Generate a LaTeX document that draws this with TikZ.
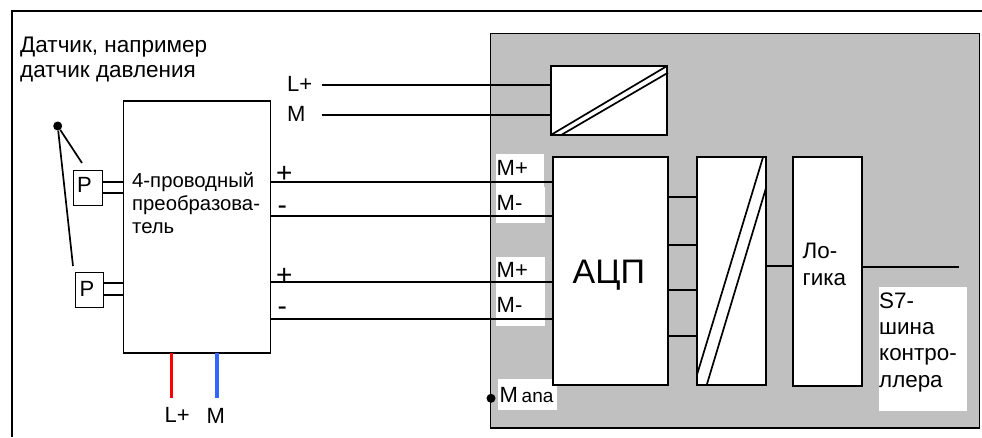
\documentclass[tikz,border=0pt]{standalone}
\usepackage{fontspec}
\setmainfont{Liberation Sans}
\usepackage{xcolor}
\definecolor{modulegray}{HTML}{C0C0C0}
\definecolor{wirered}{HTML}{FF0000}
\definecolor{wireblue}{HTML}{3366FF}
\tikzset{
    Block/.style = {draw,line width=1.8pt,fill=white,anchor=north west,inner sep=0pt,outer sep=0pt},
    Sensor/.style = {draw,line width=1pt,fill=white,anchor=north west,inner sep=0pt,outer sep=0pt},
    Txt/.style = {inner sep=0pt,anchor=base west,font=\fontsize{22}{26}\selectfont,align=left},
    Sign/.style = {inner sep=0pt,anchor=base west,font=\fontsize{28}{28}\selectfont},
    Patch/.style = {fill=white,draw=none,anchor=north west,inner sep=0pt,outer sep=0pt},
    Wire/.style = {line width=1.7pt},
    Dot/.style = {fill,circle,inner sep=0pt,minimum size=9pt}
}
\begin{document}
\begin{tikzpicture}[x=1pt,y=-1pt]
        \useasboundingbox (0,0) rectangle (982,437);
        % frame and module
        \coordinate (frameA) at (12,437);
        \coordinate (frameB) at (12,11);
        \coordinate (frameC) at (982,11);
        \draw[line width=1.8pt] (frameA) -- (frameB) -- (frameC);
        \node[Block,fill=modulegray,minimum width=489pt,minimum height=394.5pt] (module) at (490.5,33.5) {};
        % white patches below the labels
        \node[Patch,minimum width=48pt,minimum height=33pt] (patchA) at (496,154) {};
        \node[Patch,minimum width=49pt,minimum height=36pt] (patchB) at (496,187) {};
        \node[Patch,minimum width=49pt,minimum height=69pt] (patchC) at (496,257) {};
        \node[Patch,minimum width=59pt,minimum height=31pt] (patchD) at (498,379) {};
        \node[Patch,minimum width=88pt,minimum height=124pt] (patchE) at (879,287) {};
        % blocks
        \node[Block,minimum width=147pt,minimum height=252.5pt] (conv) at (123.5,100.7) {};
        \node[Block,minimum width=115.7pt,minimum height=68.7pt] (power) at (551.3,66) {};
        \node[Block,minimum width=115.6pt,minimum height=228pt] (adc) at (552.7,157.3) {};
        \node[Block,minimum width=69.3pt,minimum height=228pt] (dac) at (696.7,157.3) {};
        \node[Block,minimum width=69.6pt,minimum height=228.5pt] (logic) at (792.7,157.3) {};
        \node[Sensor,minimum width=29pt,minimum height=35pt] (pA) at (73,170) {};
        \node[Sensor,minimum width=28.7pt,minimum height=34.5pt] (pB) at (75,272.7) {};
        \node[Dot] (root) at (57.7,126) {};
        % wires
        \coordinate (rootA) at (82,163);
        \coordinate (rootB) at (73,266);
        \draw[Wire] (root) -- (rootA);
        \draw[Wire] (root) -- (rootB);
        \draw[Wire] (pA.east|-0,182) -- (conv.west|-0,182);
        \draw[Wire] (pA.east|-0,192.7) -- (conv.west|-0,192.7);
        \draw[Wire] (pB.east|-0,283) -- (conv.west|-0,283);
        \draw[Wire] (pB.east|-0,295) -- (conv.west|-0,295);
        \foreach \Y in {182,216.3,282.3,319}
            {\draw[Wire] (conv.east|-0,\Y) -- (adc.west|-0,\Y);}
        \coordinate (lpA) at (321.7,85);
        \coordinate (lpB) at (321.7,115);
        \draw[Wire] (lpA) -- (power.west|-lpA);
        \draw[Wire] (lpB) -- (power.west|-lpB);
        \foreach \Y in {197.3,245,290.3,335.7}
            {\draw[Wire] (adc.east|-0,\Y) -- (dac.west|-0,\Y);}
        \draw[Wire] (dac.east|-0,266) -- (logic.west|-0,266);
        \coordinate (bus) at (958.7,266.7);
        \draw[Wire] (logic.east|-bus) -- (bus);
        \coordinate (redEnd) at (171.7,398);
        \coordinate (blueEnd) at (217,398);
        \draw[wirered,line width=3.4pt] (redEnd|-conv.south) -- (redEnd);
        \draw[wireblue,line width=3.4pt] (blueEnd|-conv.south) -- (blueEnd);
        % slanted strokes
        \coordinate (powerC) at (562,134.5);
        \coordinate (powerD) at (668,72.7);
        \coordinate (dacA) at (696.7,375.7);
        \coordinate (dacB) at (763,157.3);
        \coordinate (dacC) at (706.7,385);
        \coordinate (dacD) at (766,188);
        \draw[Wire] (power.south west) -- (power.north east);
        \draw[Wire] (powerC) -- (powerD);
        \draw[Wire] (dacA) -- (dacB);
        \draw[Wire] (dacC) -- (dacD);
        \node[Dot] (mana) at (491,398.3) {};
        % labels
        \node[Txt,font=\fontsize{22.5}{25}\selectfont] (title) at (20,77) {Датчик, например\\датчик давления};
        \node[Txt] (lL) at (287,91) {L+};
        \node[Txt] (lM) at (287,121) {M};
        \node[Txt] (tP) at (77,192) {P};
        \node[Txt] (tQ) at (79.5,296) {P};
        \node[Txt,font=\fontsize{20.3}{23}\selectfont] (tConv) at (132,233) {4-проводный\\преобразова-\\тель};
        \node[Sign] (pa) at (276,182.5) {+};
        \node[Sign] (ma) at (277.5,214) {-};
        \node[Sign] (pb) at (276,284.5) {+};
        \node[Sign] (mb) at (277.5,315) {-};
        \node[Txt] (mpA) at (496.5,175) {M+};
        \node[Txt] (mmA) at (496.5,210) {M-};
        \node[Txt] (mpB) at (496.5,277) {M+};
        \node[Txt] (mmB) at (496.5,312) {M-};
        \node[Txt] (manaT) at (499.5,402) {M\,{\fontsize{19}{19}\selectfont ana}};
        \node[Txt,font=\fontsize{34}{34}\selectfont] (tAdc) at (572.5,283) {АЦП};
        \node[Txt,font=\fontsize{22.4}{27}\selectfont] (tLogic) at (802.5,285) {Ло-\\гика};
        \node[Txt,font=\fontsize{22.4}{26.3}\selectfont] (tBus) at (879,387) {S7-\\шина\\контро-\\ллера};
        \node[Txt] (tLp) at (164.5,422) {L+};
        \node[Txt] (tM) at (206.5,423) {M};
        \end{tikzpicture}
\end{document}
